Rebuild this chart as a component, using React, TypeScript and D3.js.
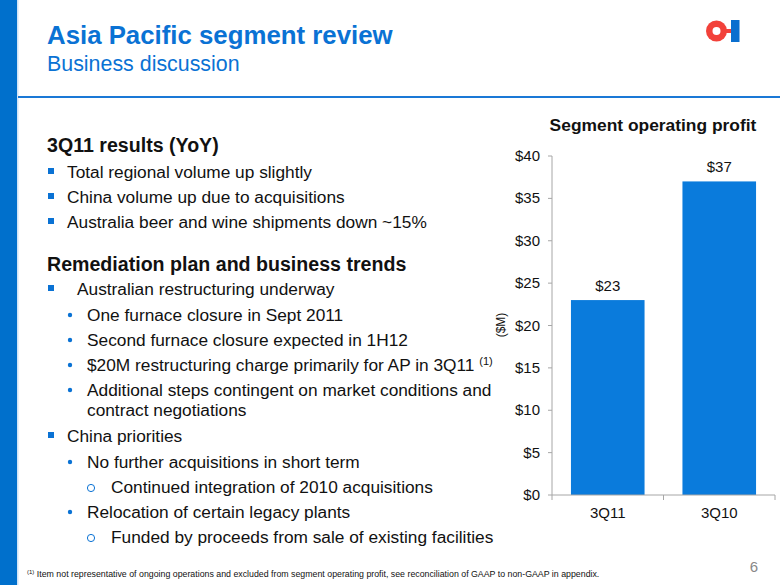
import React from "react";
import * as d3 from "d3";

const categories = ["3Q11", "3Q10"];
const profitValues = [23, 37];
const valueLabels = ["$23", "$37"];
const yTickValues = [0, 5, 10, 15, 20, 25, 30, 35, 40];

const section1Title = "3Q11 results (YoY)";
const section1Items = [
  "Total regional volume up slightly",
  "China volume up due to acquisitions",
  "Australia beer and wine shipments down ~15%",
];
const section2Title = "Remediation plan and business trends";

const FONT = "'Liberation Sans', Arial, sans-serif";
const BLUE = "#0a72d4";
const BAR = "#0a7bdc";
const TEXT = "#111";
const BODY = 17.3;
const HEAD = 19.6;

export default function App() {
  const W = 780;
  const H = 585;
  const x = d3.scaleBand<string>().domain(categories).range([552, 775]).paddingInner(0.34).paddingOuter(0.17);
  const y = d3.scaleLinear().domain([0, 40]).range([495, 156]);
  const xTickPositions = [552, ...categories.map((c) => (x(c) as number) + x.bandwidth() + (x.step() * 0.34) / 2)];

  const sq = (cx: number, baseline: number) => (
    <rect x={cx} y={baseline - 10} width={6} height={6} fill={BLUE} />
  );
  const dot = (cx: number, baseline: number) => (
    <circle cx={cx} cy={baseline - 6} r={2.2} fill={BLUE} />
  );
  const ring = (cx: number, baseline: number) => (
    <circle cx={cx} cy={baseline - 5} r={3.6} fill="none" stroke={BLUE} strokeWidth={1} />
  );

  return (
    <svg
      width={W}
      height={H}
      viewBox={`0 0 ${W} ${H}`}
      style={{ position: "absolute", left: 0, top: 0, display: "block", background: "#fff" }}
      fontFamily={FONT}
    >
      <rect x={0} y={0} width={17} height={H} fill="#0070cc" />
      <rect x={17} y={0} width={1.5} height={H} fill="#cfe3f7" />
      <rect x={18} y={96} width={W - 18} height={2} fill="#1a78d6" />

      <text x={47} y={44} fontSize={25.8} fontWeight="bold" fill={BLUE}>Asia Pacific segment review</text>
      <text x={47} y={71} fontSize={21.4} fill={BLUE}>Business discussion</text>

      {/* logo */}
      <circle cx={716.5} cy={31} r={10.5} fill="#f2413a" />
      <circle cx={716.5} cy={31} r={4} fill="#fff" />
      <rect x={725} y={29} width={7} height={4} fill="#f2413a" />
      <rect x={731} y={20} width={8.5} height={22} fill="#0a6fcf" />

      {/* left text */}
      <text x={47} y={152} fontSize={HEAD} fontWeight="bold" fill={TEXT}>{section1Title}</text>
      {section1Items.map((t, i) => (
        <g key={t}>
          {sq(48, 178 + i * 25)}
          <text x={67} y={178 + i * 25} fontSize={BODY} fill={TEXT}>{t}</text>
        </g>
      ))}
      <text x={47} y={271} fontSize={HEAD} fontWeight="bold" fill={TEXT}>{section2Title}</text>
      {sq(48, 295)}
      <text x={77} y={295} fontSize={BODY} fill={TEXT}>Australian restructuring underway</text>
      {dot(70, 321)}
      <text x={87} y={321} fontSize={BODY} fill={TEXT}>One furnace closure in Sept 2011</text>
      {dot(70, 346)}
      <text x={87} y={346} fontSize={BODY} fill={TEXT}>Second furnace closure expected in 1H12</text>
      {dot(70, 371)}
      <text x={87} y={371} fontSize={BODY} fill={TEXT}>
        $20M restructuring charge primarily for AP in 3Q11{" "}
        <tspan fontSize={11} dy={-6}>(1)</tspan>
      </text>
      {dot(70, 396)}
      <text x={87} y={396} fontSize={BODY} fill={TEXT}>Additional steps contingent on market conditions and</text>
      <text x={87} y={416} fontSize={BODY} fill={TEXT}>contract negotiations</text>
      {sq(48, 442)}
      <text x={67} y={442} fontSize={BODY} fill={TEXT}>China priorities</text>
      {dot(70, 468)}
      <text x={87} y={468} fontSize={BODY} fill={TEXT}>No further acquisitions in short term</text>
      {ring(91, 493)}
      <text x={111} y={493} fontSize={BODY} fill={TEXT}>Continued integration of 2010 acquisitions</text>
      {dot(70, 518)}
      <text x={87} y={518} fontSize={BODY} fill={TEXT}>Relocation of certain legacy plants</text>
      {ring(91, 543)}
      <text x={111} y={543} fontSize={BODY} fill={TEXT}>Funded by proceeds from sale of existing facilities</text>

      <text x={27} y={577} fontSize={8.8} fill={TEXT}>
        <tspan fontSize={6} dy={-3}>(1)</tspan>
        <tspan dy={3}> Item not representative of ongoing operations and excluded from segment operating profit, see reconciliation of GAAP to non-GAAP in appendix.</tspan>
      </text>
      <text x={758} y={572} fontSize={15} fill="#888" textAnchor="end">6</text>

      {/* chart */}
      <text x={653} y={131} fontSize={17.4} fontWeight="bold" fill={TEXT} textAnchor="middle">Segment operating profit</text>
      <text transform="translate(505,325) rotate(-90)" fontSize={12} fill={TEXT} textAnchor="middle">($M)</text>

      {profitValues.map((v, i) => (
        <g key={categories[i]}>
          <rect x={x(categories[i])} y={y(v)} width={x.bandwidth()} height={y(0) - y(v)} fill={BAR} />
          <text x={(x(categories[i]) as number) + x.bandwidth() / 2} y={y(v) - 9} fontSize={15} fill={TEXT} textAnchor="middle">{valueLabels[i]}</text>
          <text x={(x(categories[i]) as number) + x.bandwidth() / 2} y={518} fontSize={15} fill={TEXT} textAnchor="middle">{categories[i]}</text>
        </g>
      ))}

      <line x1={552} x2={552} y1={y(40)} y2={y(0)} stroke="#a6a6a6" strokeWidth={1} />
      {yTickValues.map((t) => (
        <g key={t}>
          <line x1={548} x2={552} y1={y(t)} y2={y(t)} stroke="#a6a6a6" strokeWidth={1} />
          <text x={540} y={y(t) + 5} fontSize={15} fill={TEXT} textAnchor="end">{`$${t}`}</text>
        </g>
      ))}
      <line x1={552} x2={775} y1={y(0)} y2={y(0)} stroke="#a6a6a6" strokeWidth={1} />
      {xTickPositions.map((p, i) => (
        <line key={i} x1={p} x2={p} y1={y(0)} y2={y(0) + 5} stroke="#a6a6a6" strokeWidth={1} />
      ))}
    </svg>
  );
}
